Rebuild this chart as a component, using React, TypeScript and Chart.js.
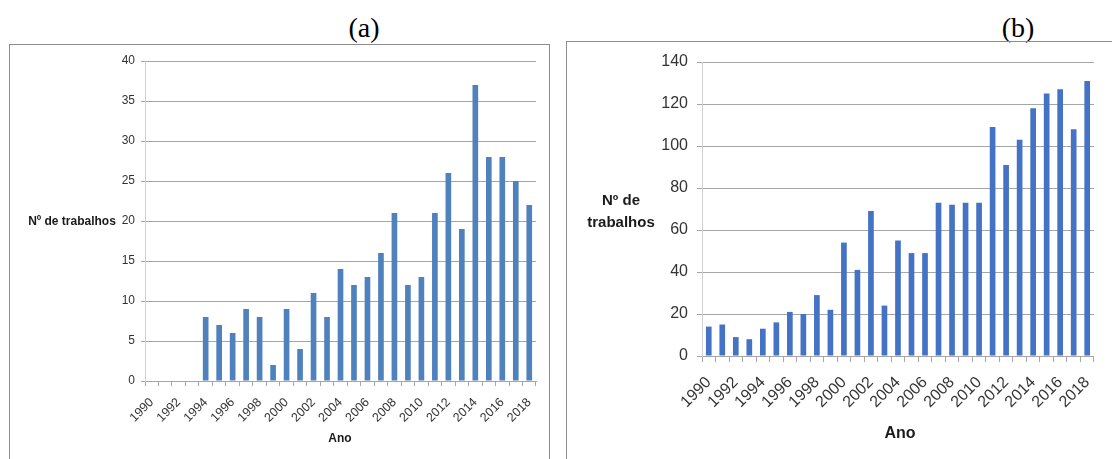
import React, { useEffect, useRef } from "react";
import { Chart, registerables } from "chart.js";

Chart.register(...registerables);

const years: string[] = [
  "1990", "1991", "1992", "1993", "1994", "1995", "1996", "1997", "1998", "1999",
  "2000", "2001", "2002", "2003", "2004", "2005", "2006", "2007", "2008", "2009",
  "2010", "2011", "2012", "2013", "2014", "2015", "2016", "2017", "2018",
];

const valuesA: number[] = [
  0, 0, 0, 0, 8, 7, 6, 9, 8, 2,
  9, 4, 11, 8, 14, 12, 13, 16, 21, 12,
  13, 21, 26, 19, 37, 28, 28, 25, 22,
];

const valuesB: number[] = [
  14, 15, 9, 8, 13, 16, 21, 20, 29, 22,
  54, 41, 69, 24, 55, 49, 49, 73, 72, 73,
  73, 109, 91, 103, 118, 125, 127, 108, 131,
];

const yTitle = "Nº de trabalhos";
const xTitle = "Ano";
const FONT = "'Liberation Sans', Arial, sans-serif";

type PanelCfg = {
  values: number[];
  color: string;
  max: number;
  step: number;
  width: number;
  height: number;
  pad: { left: number; right: number; top: number; bottom: number };
  yWidth: number;
  xHeight: number;
  yFont: number;
  xFont: number;
  yTickLen: number;
  yPad: number;
  xTickLen: number;
  xPad: number;
  barPct: number;
};

function BarPanel({ cfg }: { cfg: PanelCfg }) {
  const ref = useRef<HTMLCanvasElement | null>(null);
  useEffect(() => {
    if (!ref.current) return;
    const chart = new Chart(ref.current, {
      type: "bar",
      data: {
        labels: years,
        datasets: [
          {
            data: cfg.values,
            backgroundColor: cfg.color,
            borderWidth: 0,
            barPercentage: cfg.barPct,
            categoryPercentage: 1,
          },
        ],
      },
      options: {
        responsive: false,
        animation: false,
        devicePixelRatio: 1,
        layout: { padding: cfg.pad },
        plugins: { legend: { display: false }, tooltip: { enabled: false }, title: { display: false } },
        scales: {
          x: {
            offset: true,
            grid: {
              display: true,
              offset: true,
              drawOnChartArea: false,
              drawTicks: true,
              tickLength: cfg.xTickLen,
              color: "#a6a6a6",
            },
            border: { display: true, color: "#a6a6a6" },
            ticks: {
              autoSkip: false,
              maxRotation: 45,
              minRotation: 45,
              padding: cfg.xPad,
              color: "#333333",
              font: { family: FONT, size: cfg.xFont },
              callback: (_v: any, i: number) => (i % 2 === 0 ? years[i] : ""),
            },
            afterFit: (s: any) => {
              s.height = cfg.xHeight;
            },
          },
          y: {
            min: 0,
            max: cfg.max,
            ticks: {
              stepSize: cfg.step,
              padding: cfg.yPad,
              color: "#333333",
              font: { family: FONT, size: cfg.yFont },
            },
            grid: {
              color: "#a6a6a6",
              drawTicks: true,
              tickLength: cfg.yTickLen,
            },
            border: { display: true, color: "#d0d0d0" },
            afterFit: (s: any) => {
              s.width = cfg.yWidth;
            },
          },
        },
      },
    });
    return () => chart.destroy();
  }, [cfg]);
  return (
    <canvas
      ref={ref}
      width={cfg.width}
      height={cfg.height}
      style={{ width: cfg.width, height: cfg.height, display: "block" }}
    />
  );
}

const cfgA: PanelCfg = {
  values: valuesA,
  color: "#4f81bd",
  max: 40,
  step: 5,
  width: 541,
  height: 415,
  pad: { left: 96, right: 14, top: 17, bottom: 0 },
  yWidth: 40,
  xHeight: 78,
  yFont: 12,
  xFont: 12.5,
  yTickLen: 4,
  yPad: 6,
  xTickLen: 5,
  xPad: 9,
  barPct: 0.42,
};

const cfgB: PanelCfg = {
  values: valuesB,
  color: "#4472c4",
  max: 140,
  step: 20,
  width: 546,
  height: 418,
  pad: { left: 96, right: 13, top: 21, bottom: 0 },
  yWidth: 40,
  xHeight: 103,
  yFont: 16,
  xFont: 16,
  yTickLen: 5,
  yPad: 9,
  xTickLen: 6,
  xPad: 11,
  barPct: 0.42,
};

export default function App() {
  return (
    <div
      style={{
        position: "fixed",
        left: 0,
        top: 0,
        width: 1112,
        height: 459,
        background: "#ffffff",
        overflow: "hidden",
      }}
    >
      <div
        style={{
          position: "absolute",
          left: 334,
          top: 10,
          width: 60,
          textAlign: "center",
          fontFamily: "'Liberation Serif', 'Times New Roman', serif",
          fontSize: 28,
          lineHeight: "36px",
          color: "#000",
        }}
      >
        (a)
      </div>
      <div
        style={{
          position: "absolute",
          left: 988,
          top: 10,
          width: 60,
          textAlign: "center",
          fontFamily: "'Liberation Serif', 'Times New Roman', serif",
          fontSize: 28,
          lineHeight: "36px",
          color: "#000",
        }}
      >
        (b)
      </div>

      {/* Panel A */}
      <div
        style={{
          position: "absolute",
          left: 9,
          top: 44,
          width: 541,
          height: 430,
          border: "1px solid #8c8c8c",
          boxSizing: "border-box",
        }}
      />
      <div style={{ position: "absolute", left: 9, top: 44 }}>
        <BarPanel cfg={cfgA} />
      </div>
      <div
        style={{
          position: "absolute",
          left: 12,
          top: 213,
          width: 120,
          textAlign: "center",
          fontFamily: FONT,
          fontWeight: "bold",
          fontSize: 12,
          lineHeight: "16px",
          color: "#1a1a1a",
          whiteSpace: "nowrap",
        }}
      >
        {yTitle}
      </div>
      <div
        style={{
          position: "absolute",
          left: 300,
          top: 430,
          width: 80,
          textAlign: "center",
          fontFamily: FONT,
          fontWeight: "bold",
          fontSize: 12,
          lineHeight: "16px",
          color: "#1a1a1a",
        }}
      >
        {xTitle}
      </div>

      {/* Panel B */}
      <div
        style={{
          position: "absolute",
          left: 566,
          top: 41,
          width: 560,
          height: 430,
          border: "1px solid #8c8c8c",
          boxSizing: "border-box",
        }}
      />
      <div style={{ position: "absolute", left: 566, top: 41 }}>
        <BarPanel cfg={cfgB} />
      </div>
      <div
        style={{
          position: "absolute",
          left: 571,
          top: 189,
          width: 100,
          textAlign: "center",
          fontFamily: FONT,
          fontWeight: "bold",
          fontSize: 15,
          lineHeight: "22px",
          color: "#1a1a1a",
        }}
      >
        Nº de
        <br />
        trabalhos
      </div>
      <div
        style={{
          position: "absolute",
          left: 860,
          top: 423,
          width: 80,
          textAlign: "center",
          fontFamily: FONT,
          fontWeight: "bold",
          fontSize: 16,
          lineHeight: "20px",
          color: "#1a1a1a",
        }}
      >
        {xTitle}
      </div>
    </div>
  );
}
